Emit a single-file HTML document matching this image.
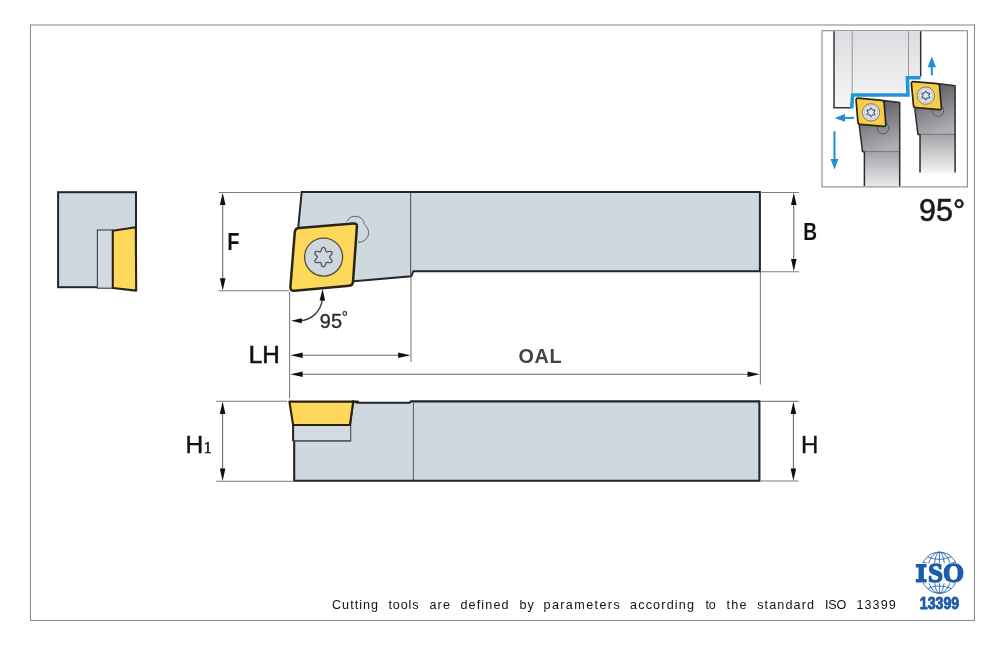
<!DOCTYPE html>
<html>
<head>
<meta charset="utf-8">
<title>Tool holder diagram</title>
<style>
html,body{margin:0;padding:0;background:#fff;}
body{width:1000px;height:646px;overflow:hidden;font-family:"Liberation Sans",sans-serif;}
svg{display:block;}
text{font-family:"Liberation Sans",sans-serif;}
.serif{font-family:"Liberation Serif",serif;}
</style>
</head>
<body>
<svg width="1000" height="646" viewBox="0 0 1000 646">
<defs>
  <linearGradient id="wp" x1="0" y1="0" x2="0" y2="1">
    <stop offset="0" stop-color="#dcdde0"/>
    <stop offset="1" stop-color="#f6f6f7"/>
  </linearGradient>
  <linearGradient id="head" x1="0.2" y1="0" x2="0.5" y2="1">
    <stop offset="0" stop-color="#55565a"/>
    <stop offset="1" stop-color="#aeafb3"/>
  </linearGradient>
  <linearGradient id="shank" x1="0" y1="0" x2="0" y2="1">
    <stop offset="0" stop-color="#a3a4a8"/>
    <stop offset="1" stop-color="#e9e9eb"/>
  </linearGradient>
  <linearGradient id="shank2" x1="0" y1="0" x2="0" y2="1">
    <stop offset="0" stop-color="#a3a4a8"/>
    <stop offset="1" stop-color="#f4f4f5"/>
  </linearGradient>
  <filter id="noop" x="0" y="0" width="1000" height="646" filterUnits="userSpaceOnUse" color-interpolation-filters="sRGB"><feOffset dx="0" dy="0"/></filter>
  <path id="ah" d="M0,0 L12.3,-2.8 L12.3,2.8 Z"/>
</defs>
<rect width="1000" height="646" fill="#fff"/>
<g id="all" filter="url(#noop)">
<!-- outer frame -->
<rect x="30.5" y="25" width="944" height="595.5" fill="none" stroke="#8e8e8e" stroke-width="1.1"/>

<!-- ===== left end view ===== -->
<g id="endview">
  <rect x="58.1" y="192.2" width="77.9" height="95" fill="#cfd7df" stroke="#23272b" stroke-width="2"/>
  <rect x="97.4" y="230" width="15.3" height="58.2" fill="#d3dae2" stroke="#3a3f45" stroke-width="1.1"/>
  <path d="M112.8,230.8 L135.8,227.2 L136.2,290.6 L112.8,288 Z" fill="#fdd85a" stroke="#2a2418" stroke-width="2.1" stroke-linejoin="round"/>
</g>

<!-- ===== top view ===== -->
<g id="topview">
  <path d="M301.7,192 H759.9 V271.2 H413.4 L411.3,276.3 L351,281.4 L297.9,231 Z" fill="#cfd7df" stroke="#23272b" stroke-width="2" stroke-linejoin="miter"/>
  <line x1="410.6" y1="193" x2="410.6" y2="276" stroke="#555b62" stroke-width="1.1"/>
  <path d="M347.2,221.3 A9.1,9.1 0 0 1 364.4,224.6 A9.67,9.67 0 0 1 358,242.2" fill="none" stroke="#5f656d" stroke-width="1"/>
  <path d="M294.8,232.1 Q295.1,228.3 298.9,227.9 L353.4,223.4 Q357.2,223.1 356.9,226.8 L353.0,281.9 Q352.8,285.5 349.2,285.8 L294.6,290.8 Q290.1,291.3 290.4,286.8 Z" fill="#fdd85a" stroke="#2a2418" stroke-width="2.5" stroke-linejoin="round"/>
  <circle cx="323.6" cy="257.1" r="19" fill="#cfd6de" stroke="#504e34" stroke-width="1.3"/>
  <path d="M329.5,257.1 L330.0,257.9 L331.1,259.1 L332.0,260.6 L331.9,262.0 L330.8,262.7 L329.0,262.6 L327.4,262.3 L326.5,262.3 L326.0,263.1 L325.5,264.7 L324.7,266.2 L323.5,266.9 L322.2,266.2 L321.4,264.7 L320.9,263.1 L320.5,262.3 L319.5,262.3 L317.9,262.6 L316.1,262.7 L315.0,262.0 L314.9,260.6 L315.8,259.1 L317.0,257.9 L317.5,257.1 L317.0,256.2 L315.8,255.0 L314.9,253.5 L315.0,252.2 L316.1,251.4 L317.9,251.5 L319.5,251.9 L320.5,251.9 L320.9,251.0 L321.4,249.4 L322.2,247.9 L323.5,247.3 L324.7,247.9 L325.5,249.4 L326.0,251.0 L326.5,251.9 L327.4,251.9 L329.0,251.5 L330.8,251.4 L331.9,252.2 L332.0,253.5 L331.1,255.0 L330.0,256.2 Z" fill="none" stroke="#4c535c" stroke-width="1.25"/>
</g>

<!-- ===== side view ===== -->
<g id="sideview">
  <path d="M294.2,440.5 V480.8 H759.4 V401.4 H411 L409.4,402.8 H357.4 L353,401.4 L350,425 V440.5 Z" fill="#cfd7df" stroke="#23272b" stroke-width="2.1"/>
  <line x1="413.4" y1="402" x2="413.4" y2="480" stroke="#555b62" stroke-width="1"/>
  <rect x="293.1" y="425.3" width="57.6" height="15.4" fill="#d3dae2" stroke="#4a4f56" stroke-width="1"/>
  <line x1="293.1" y1="425" x2="293.1" y2="441.2" stroke="#23272b" stroke-width="2"/>
  <path d="M289.4,401.6 H358 H353.2 L349.9,425 H293.1 Z" fill="#fdd85a" stroke="#2a2110" stroke-width="2.1" stroke-linejoin="round"/>
</g>

<!-- ===== dimensions ===== -->
<g stroke="#7e7e7e" stroke-width="1.1" fill="none">
  <!-- F -->
  <line x1="218.5" y1="192.5" x2="300.5" y2="192.5"/>
  <line x1="218.5" y1="290.8" x2="289" y2="290.8"/>
  <!-- B -->
  <line x1="760.5" y1="192.5" x2="799" y2="192.5"/>
  <line x1="760.5" y1="271.7" x2="799" y2="271.7"/>
  <!-- H -->
  <line x1="760.5" y1="401.4" x2="798.5" y2="401.4"/>
  <line x1="760.5" y1="481" x2="798.5" y2="481"/>
  <!-- H1 -->
  <line x1="216" y1="401.3" x2="287" y2="401.3"/>
  <line x1="216" y1="481.2" x2="294" y2="481.2"/>
  <!-- vertical ext lines -->
  <line x1="289.6" y1="292" x2="289.6" y2="398.5"/>
  <line x1="411" y1="277" x2="411" y2="362"/>
  <line x1="760.4" y1="272" x2="760.4" y2="384.4"/>
</g>
<g stroke="#6a6a6a" stroke-width="1.1" fill="none">
  <line x1="222.7" y1="197" x2="222.7" y2="286"/>
  <line x1="793.8" y1="197" x2="793.8" y2="267"/>
  <line x1="793.4" y1="406" x2="793.4" y2="476"/>
  <line x1="222.6" y1="406" x2="222.6" y2="476"/>
  <line x1="295" y1="355.2" x2="405" y2="355.2"/>
  <line x1="295" y1="374.3" x2="755" y2="374.3"/>
</g>
<path d="M300,320.8 C310.5,320.4 321,312 322.4,299" fill="none" stroke="#3c3c3c" stroke-width="1.4"/>
<g fill="#111">
  <use href="#ah" transform="translate(222.7,192.8) rotate(90)"/>
  <use href="#ah" transform="translate(222.7,290.5) rotate(-90)"/>
  <use href="#ah" transform="translate(793.8,192.8) rotate(90)"/>
  <use href="#ah" transform="translate(793.8,271.2) rotate(-90)"/>
  <use href="#ah" transform="translate(793.4,401.7) rotate(90)"/>
  <use href="#ah" transform="translate(793.4,480.7) rotate(-90)"/>
  <use href="#ah" transform="translate(222.6,401.6) rotate(90)"/>
  <use href="#ah" transform="translate(222.6,480.9) rotate(-90)"/>
  <use href="#ah" transform="translate(290.4,355.2)"/>
  <use href="#ah" transform="translate(410.4,355.2) rotate(180)"/>
  <use href="#ah" transform="translate(290.4,374.3)"/>
  <use href="#ah" transform="translate(759.8,374.3) rotate(180)"/>
  <path d="M291,320.7 L301.8,318.2 L301.8,323.3 Z"/>
  <path d="M322.6,288.9 L325.1,300.8 L319.6,300.5 Z"/>
</g>

<!-- labels -->
<g fill="#111">
  <text x="227.2" y="250.1" font-size="23.6" font-weight="bold" textLength="12.2" lengthAdjust="spacingAndGlyphs">F</text>
  <text x="803.2" y="239.8" font-size="23.4" font-weight="bold" textLength="13.8" lengthAdjust="spacingAndGlyphs">B</text>
  <text x="801" y="452.8" font-size="24" stroke="#111" stroke-width="0.35">H</text>
  <text x="185.6" y="452.8" font-size="24.6" stroke="#111" stroke-width="0.4">H</text>
  <text class="serif" x="203.4" y="452.8" font-size="16.8" stroke="#111" stroke-width="0.4">1</text>
  <text x="248.8" y="363.3" font-size="24.6" stroke="#111" stroke-width="0.6" textLength="31" lengthAdjust="spacingAndGlyphs">LH</text>
  <text x="518.6" y="363" font-size="19.8" font-weight="bold" fill="#4a4242" letter-spacing="0.6">OAL</text>
  <text x="319.8" y="327.5" font-size="20.4" fill="#2c2c2c" stroke="#2c2c2c" stroke-width="0.35" textLength="22.2" lengthAdjust="spacingAndGlyphs">95</text>
  <circle cx="344.8" cy="313.5" r="1.9" fill="none" stroke="#2c2c2c" stroke-width="1.1"/>
  <text x="919" y="221" font-size="30.5" fill="#1c1c1c" stroke="#1c1c1c" stroke-width="0.6">95°</text>
</g>

<!-- ===== inset ===== -->
<g id="inset">
  <rect x="822" y="30.7" width="145.4" height="156.2" fill="#fff" stroke="#8a8a8a" stroke-width="1.1"/>
  <!-- workpiece -->
  <path d="M834,31.3 H921 V77 H907.6 V94.4 H851.6 V107.7 H834 Z" fill="url(#wp)"/>
  <line x1="852.2" y1="31.3" x2="852.2" y2="93" stroke="#8d9096" stroke-width="0.9"/>
  <line x1="908.5" y1="31.3" x2="908.5" y2="76" stroke="#8d9096" stroke-width="0.9"/>
  <path d="M834,31.3 V107.7 H851.6" fill="none" stroke="#33363a" stroke-width="1.5"/>
  <line x1="920.7" y1="31.3" x2="920.7" y2="76.4" stroke="#33363a" stroke-width="1.5"/>
  <path d="M851.7,108.4 L852.6,95 H908 L907.4,77.8 H920.6" fill="none" stroke="#1f97d9" stroke-width="3.6"/>
  <!-- left tool -->
  <path d="M864.3,186 V151.6 H899.7 V186 Z" fill="url(#shank)"/>
  <path d="M883.8,100.6 L899.7,102.4 V151.6 H862.5 L859,125 Z" fill="url(#head)"/>
  <line x1="862.5" y1="151.6" x2="899.7" y2="151.6" stroke="#5c5d61" stroke-width="0.8"/>
  <path d="M883.8,100.6 L899.7,102.4 V186 M864.4,186 V152.3 L862.5,151.4 L859.2,125" fill="none" stroke="#2b2d30" stroke-width="1.5" stroke-linejoin="round"/>
  <circle cx="883" cy="128" r="5.8" fill="none" stroke="#4b4d52" stroke-width="0.8"/>
  <path d="M856.1,100.3 Q855.9,98.0 858.2,98.2 L881.9,100.4 Q884.0,100.6 884.1,102.6 L885.8,124.2 Q886.0,126.6 883.6,126.4 L860.1,124.3 Q858.1,124.2 857.9,122.1 Z" fill="#f8cd48" stroke="#2a2418" stroke-width="1.7" stroke-linejoin="round"/>
  <circle cx="871" cy="112.4" r="8.7" fill="#dfe2e7" stroke="#7a7a68" stroke-width="1"/>
  <circle cx="871" cy="112.4" r="6.6" fill="#e6e9ed" stroke="#a9aeb5" stroke-width="0.6"/>
  <path d="M873.7,112.4 L874.1,112.9 L874.8,113.7 L874.9,114.6 L874.1,115.0 L873.0,114.8 L872.3,114.7 L872.0,115.3 L871.7,116.3 L871.0,116.9 L870.3,116.3 L869.9,115.3 L869.6,114.7 L868.9,114.8 L867.9,115.0 L867.1,114.6 L867.1,113.7 L867.9,112.9 L868.3,112.4 L867.9,111.8 L867.1,111.0 L867.1,110.1 L867.9,109.8 L868.9,109.9 L869.6,110.0 L869.9,109.4 L870.3,108.4 L871.0,107.9 L871.7,108.4 L872.0,109.4 L872.3,110.0 L873.0,109.9 L874.1,109.8 L874.9,110.1 L874.8,111.0 L874.1,111.8 Z" fill="none" stroke="#4d5d78" stroke-width="1.1"/>
  <!-- right tool -->
  <path d="M919.9,172.6 V134.4 H955.1 V172.6 Z" fill="url(#shank2)"/>
  <path d="M939.2,83.8 L955.1,85.8 V134.4 H917.9 L914.6,108.6 Z" fill="url(#head)"/>
  <line x1="917.9" y1="134.4" x2="955.1" y2="134.4" stroke="#5c5d61" stroke-width="0.8"/>
  <path d="M939.2,83.8 L955.1,85.8 V172.4 M920,172.4 V135 L917.9,134.2 L914.8,108.6" fill="none" stroke="#2b2d30" stroke-width="1.5" stroke-linejoin="round"/>
  <circle cx="938" cy="110.6" r="5.8" fill="none" stroke="#4b4d52" stroke-width="0.8"/>
  <path d="M911.4,83.7 Q911.2,81.4 913.5,81.6 L937.3,83.6 Q939.4,83.8 939.5,85.8 L941.4,107.5 Q941.6,109.9 939.2,109.7 L915.7,107.7 Q913.7,107.6 913.5,105.6 Z" fill="#f8cd48" stroke="#2a2418" stroke-width="1.7" stroke-linejoin="round"/>
  <circle cx="925.8" cy="95.6" r="8.7" fill="#dfe2e7" stroke="#7a7a68" stroke-width="1"/>
  <circle cx="925.8" cy="95.6" r="6.6" fill="#e6e9ed" stroke="#a9aeb5" stroke-width="0.6"/>
  <path d="M928.5,95.6 L928.9,96.1 L929.6,96.9 L929.7,97.8 L928.9,98.2 L927.8,98.0 L927.1,97.9 L926.8,98.5 L926.5,99.5 L925.8,100.1 L925.1,99.5 L924.7,98.5 L924.4,97.9 L923.7,98.0 L922.7,98.2 L921.9,97.8 L921.9,96.9 L922.7,96.1 L923.1,95.6 L922.7,95.0 L921.9,94.2 L921.9,93.3 L922.7,93.0 L923.7,93.1 L924.4,93.2 L924.7,92.6 L925.1,91.6 L925.8,91.1 L926.5,91.6 L926.8,92.6 L927.1,93.2 L927.8,93.1 L928.9,93.0 L929.7,93.3 L929.6,94.2 L928.9,95.0 Z" fill="none" stroke="#4d5d78" stroke-width="1.1"/>
  <!-- blue arrows -->
  <g stroke="#1f8fd2" stroke-width="2" fill="#1f8fd2">
    <line x1="854" y1="117.9" x2="842" y2="117.9"/>
    <path d="M834.6,117.9 L845,114 L845,121.8 Z" stroke="none"/>
    <line x1="834.5" y1="131.2" x2="834.5" y2="161"/>
    <path d="M834.5,169.5 L830.6,159 L838.4,159 Z" stroke="none"/>
    <line x1="931.8" y1="75.4" x2="931.8" y2="65"/>
    <path d="M931.8,56.4 L927.6,67.2 L936,67.2 Z" stroke="none"/>
  </g>
</g>

<!-- ===== ISO logo ===== -->
<g id="iso">
  <g fill="none" stroke="#2a66b0" stroke-width="0.9">
    <ellipse cx="939.4" cy="572.7" rx="18.8" ry="20.6"/>
    <ellipse cx="939.4" cy="572.7" rx="5.6" ry="20.6"/>
    <ellipse cx="939.4" cy="572.7" rx="12" ry="20.6"/>
    <line x1="939.4" y1="552.1" x2="939.4" y2="593.3"/>
    <path d="M927.4,556.8 Q939.4,562 951.4,556.8"/>
    <path d="M923,562 Q939.4,568.5 955.8,562"/>
    <path d="M927.4,588.6 Q939.4,583.4 951.4,588.6"/>
    <path d="M923,583.4 Q939.4,576.9 955.8,583.4"/>
  </g>
  <rect x="914" y="563.2" width="52" height="20" fill="#fff"/>
  <path d="M915.8,564 H926.6 V567.4 H923.9 V579 H926.6 V582.4 H915.8 V579 H918.5 V567.4 H915.8 Z" fill="#1d5ca8"/>
  <text class="serif" x="928" y="582.3" font-size="27.4" font-weight="bold" fill="#1d5ca8" stroke="#1d5ca8" stroke-width="1.4" textLength="36.2" lengthAdjust="spacingAndGlyphs">SO</text>
  <text x="919.8" y="609.3" font-size="17.4" font-weight="bold" fill="#1d5ca8" stroke="#1d5ca8" stroke-width="0.9" textLength="39.4" lengthAdjust="spacingAndGlyphs">13399</text>
</g>

<!-- ===== footer text ===== -->
<g font-size="12.6" fill="#111" id="footer">
  <text x="332" y="609.2" textLength="46" lengthAdjust="spacing">Cutting</text>
  <text x="388.4" y="609.2" textLength="30.2" lengthAdjust="spacing">tools</text>
  <text x="429.5" y="609.2" textLength="20.4" lengthAdjust="spacing">are</text>
  <text x="460.4" y="609.2" textLength="48.2" lengthAdjust="spacing">defined</text>
  <text x="519.5" y="609.2" textLength="14.4" lengthAdjust="spacing">by</text>
  <text x="543.5" y="609.2" textLength="76.2" lengthAdjust="spacing">parameters</text>
  <text x="630" y="609.2" textLength="64" lengthAdjust="spacing">according</text>
  <text x="705.6" y="609.2" textLength="10.2" lengthAdjust="spacing">to</text>
  <text x="726.6" y="609.2" textLength="19.8" lengthAdjust="spacing">the</text>
  <text x="757.2" y="609.2" textLength="56.8" lengthAdjust="spacing">standard</text>
  <text x="825" y="609.2" textLength="21.4" lengthAdjust="spacing">ISO</text>
  <text x="856.5" y="609.2" textLength="39.2" lengthAdjust="spacing">13399</text>
</g>
</g>
</svg>
</body>
</html>
